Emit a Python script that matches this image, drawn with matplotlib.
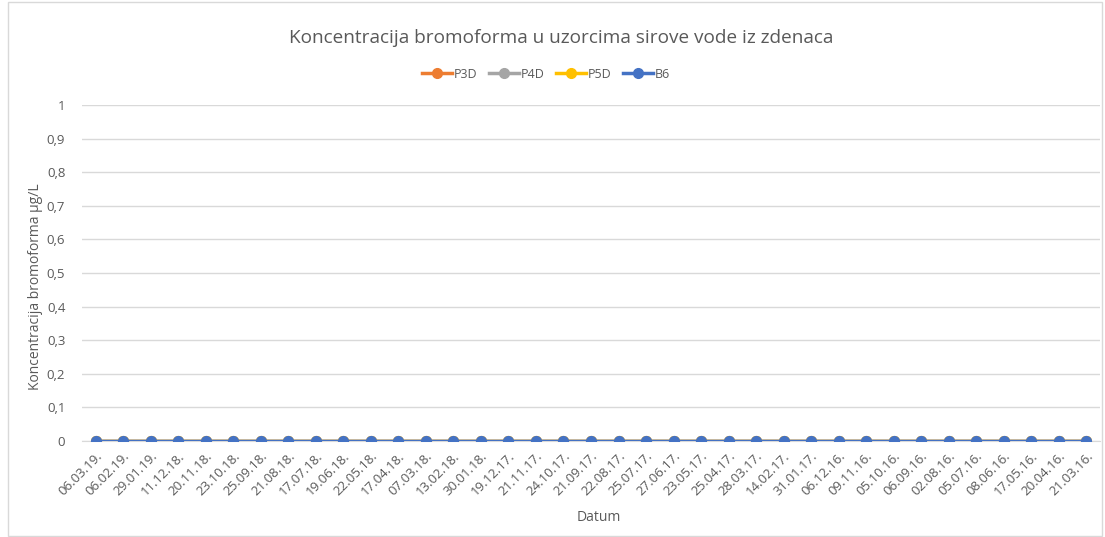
import numpy as np
import matplotlib.pyplot as plt
from matplotlib.patches import Rectangle

# dates as shown on the category axis (newest first)
datumi = ['06.03.19.', '06.02.19.', '29.01.19.', '11.12.18.', '20.11.18.', '23.10.18.',
          '25.09.18.', '21.08.18.', '17.07.18.', '19.06.18.', '22.05.18.', '17.04.18.',
          '07.03.18.', '13.02.18.', '30.01.18.', '19.12.17.', '21.11.17.', '24.10.17.',
          '21.09.17.', '22.08.17.', '25.07.17.', '27.06.17.', '23.05.17.', '25.04.17.',
          '28.03.17.', '14.02.17.', '31.01.17.', '06.12.16.', '09.11.16.', '05.10.16.',
          '06.09.16.', '02.08.16.', '05.07.16.', '08.06.16.', '17.05.16.', '20.04.16.',
          '21.03.16.']

# all measured values are 0 ug/L
p3d = [0] * len(datumi)
p4d = [0] * len(datumi)
p5d = [0] * len(datumi)
b6 = [0] * len(datumi)

serije = ['P3D', 'P4D', 'P5D', 'B6']
boje = ['#ED7D31', '#A5A5A5', '#FFC000', '#4472C4']

plt.rcParams['font.family'] = ['Open Sans', 'DejaVu Sans']
tekst = '#595959'

fig = plt.figure(figsize=(11.05, 5.37), dpi=100)
fig.patches.append(Rectangle((0.007, 0.002), 0.99, 0.995, transform=fig.transFigure,
                             fill=False, edgecolor='#d9d9d9', linewidth=1))
ax = fig.add_axes([0.0742, 0.1788, 0.9213, 0.6257])

x = np.arange(len(datumi))
for naziv, vrijednosti, boja in zip(serije, [p3d, p4d, p5d, b6], boje):
    ax.plot(x, vrijednosti, color=boja, linewidth=2.5, marker='o', markersize=7,
            label=naziv, zorder=3)

ax.set_xlim(-0.5, len(datumi) - 0.5)
ax.set_ylim(0, 1)
ax.set_yticks(np.arange(0, 1.01, 0.1))
ax.set_yticklabels(['0'] + [f'{v:.1f}'.replace('.', ',') for v in np.arange(0.1, 0.95, 0.1)] + ['1'])
ax.set_xticks(x)
ax.set_xticklabels(datumi, rotation=45, ha='right', rotation_mode='anchor')
ax.tick_params(axis='both', length=0, colors=tekst, labelsize=9.5)
ax.tick_params(axis='y', pad=12)
ax.tick_params(axis='x', pad=6)
ax.grid(axis='y', color='#d9d9d9', linewidth=1)
ax.set_axisbelow(True)
for s in ['top', 'right', 'left']:
    ax.spines[s].set_visible(False)
ax.spines['bottom'].set_color('#d9d9d9')

ax.set_xlabel('Datum', color=tekst, fontsize=10)
ax.xaxis.set_label_coords(0.508, -0.205)
ax.set_ylabel('Koncentracija bromoforma µg/L', color=tekst, fontsize=10)
ax.yaxis.set_label_coords(-0.038, 0.46)

fig.text(0.508, 0.929, 'Koncentracija bromoforma u uzorcima sirove vode iz zdenaca',
         ha='center', va='center', fontsize=13.7, color=tekst)
fig.legend(loc='center', bbox_to_anchor=(0.494, 0.862), ncol=4, frameon=False,
           fontsize=9, labelcolor=tekst, handlelength=2.4, columnspacing=0.9,
           handletextpad=0.15)

fig.savefig('out.png', dpi=100)
